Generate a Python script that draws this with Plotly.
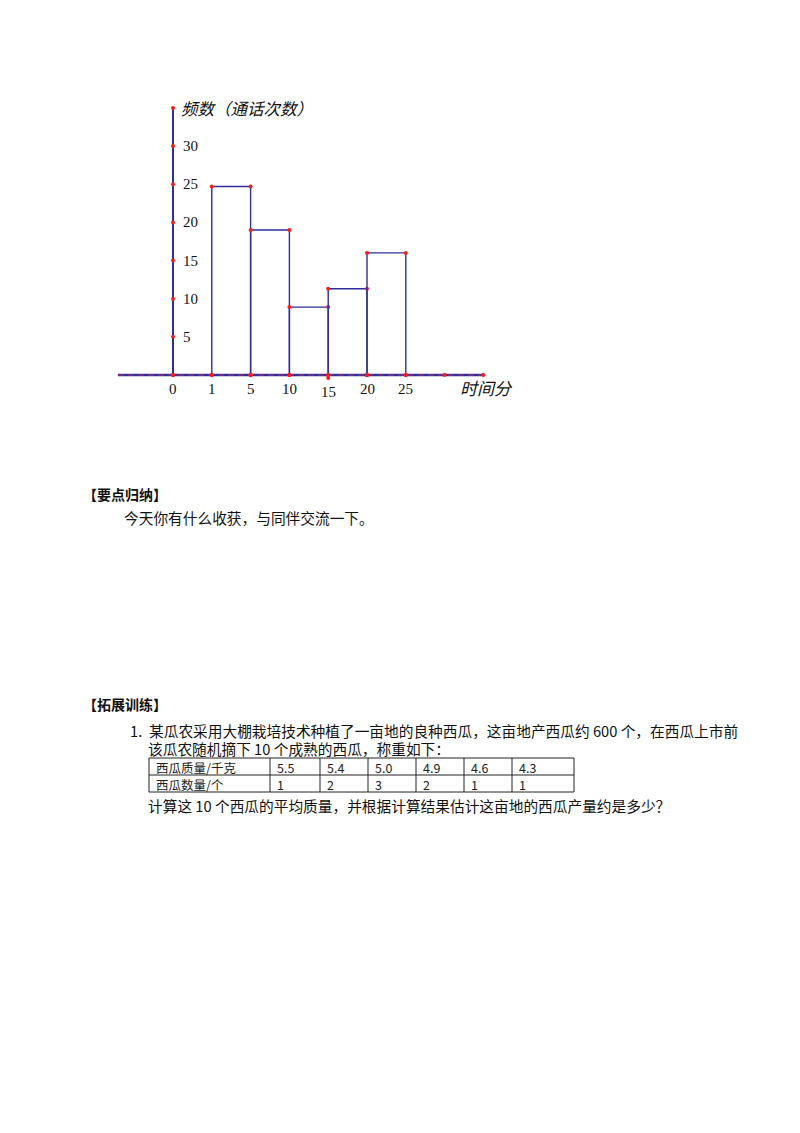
import plotly.graph_objects as go

# --- data ---
x_tick_labels = ["0", "1", "5", "10", "15", "20", "25"]
bar_heights = [24.7, 19.0, 8.9, 11.3, 16.0]          # bars between consecutive x ticks from "1"
y_tick_values = [5, 10, 15, 20, 25, 30]
y_axis_top = 35
x_axis_dots = [0, 1, 2, 3, 4, 5, 6, 7, 8]            # ordinal positions of red dots on the time axis
x_axis_dot_y = [0, 0, 0, 0, -0.4, 0, 0, 0, 0]

table_row1_head = "西瓜质量/千克"
table_row2_head = "西瓜数量/个"
masses = ["5.5", "5.4", "5.0", "4.9", "4.6", "4.3"]
counts = [1, 2, 3, 2, 1, 1]

W, H = 800, 1133
BLUE = "#2e2e9e"
RED = "#ff1a1a"
CJK = "Noto Sans CJK SC"
SERIF = "Liberation Serif"

# pixel mapping of the histogram: x_px = 173 + 38.8*i, y_px = 375 - 7.63*v
def px_x(p):
    return p / W

def px_y(p):
    return 1 - p / H

xr = [-1.5, 8.5]
yr = [-3, 36]
x_dom = [px_x(173 + 38.8 * xr[0]), px_x(173 + 38.8 * xr[1])]
y_dom = [px_y(375 - 7.63 * yr[0]), px_y(375 - 7.63 * yr[1])]

fig = go.Figure()

# time axis: blue line with red dashes
fig.add_trace(go.Scatter(x=[-1.42, 8.0], y=[0, 0], mode="lines",
                         line=dict(color=BLUE, width=2.6), hoverinfo="skip"))
fig.add_trace(go.Scatter(x=[-1.42, 8.0], y=[0, 0], mode="lines",
                         line=dict(color="rgba(255,60,60,0.55)", width=1.2, dash="6px,4px"),
                         hoverinfo="skip"))
# frequency axis
fig.add_trace(go.Scatter(x=[0, 0], y=[0, y_axis_top], mode="lines",
                         line=dict(color=BLUE, width=2), hoverinfo="skip"))

# bars as outlines
for i, h in enumerate(bar_heights):
    l, r = i + 1, i + 2
    fig.add_trace(go.Scatter(x=[l, l, r, r], y=[0, h, h, 0], mode="lines+markers",
                             line=dict(color=BLUE, width=1.4),
                             marker=dict(color=RED, size=4), hoverinfo="skip"))

# red dots on axes
fig.add_trace(go.Scatter(x=x_axis_dots, y=x_axis_dot_y, mode="markers",
                         marker=dict(color=RED, size=4), hoverinfo="skip"))
fig.add_trace(go.Scatter(x=[0] * (len(y_tick_values) + 2), y=[0] + y_tick_values + [y_axis_top],
                         mode="markers", marker=dict(color=RED, size=4), hoverinfo="skip"))

# tick labels
for v in y_tick_values:
    fig.add_annotation(x=0.2, y=v, text=str(v), showarrow=False, xanchor="left",
                       font=dict(family=SERIF, size=15, color="#111"))
for i, t in enumerate(x_tick_labels):
    fig.add_annotation(x=i, y=-1.8 if t != "15" else -2.2, text=t, showarrow=False,
                       font=dict(family=SERIF, size=15, color="#111"))
fig.add_annotation(x=0.15, y=y_axis_top, text="<i>频数（通话次数）</i>", showarrow=False,
                   xanchor="left", font=dict(family=CJK, size=16.5, color="#111"))
fig.add_annotation(x=7.35, y=-1.7, text="<i>时间分</i>", showarrow=False,
                   xanchor="left", font=dict(family=CJK, size=17, color="#111"))

# page text
def add_text(x, y, text, size=14.7, bold=False):
    fig.add_annotation(xref="paper", yref="paper", x=px_x(x), y=px_y(y), text=text,
                       showarrow=False, xanchor="left", yanchor="middle", height=17,
                       font=dict(family=CJK, size=size, color="#111",
                                 weight="bold" if bold else "normal"))

add_text(81, 493, "【要点归纳】", 14, bold=True)
add_text(122, 517, "今天你有什么收获，与同伴交流一下。")
add_text(81, 704, "【拓展训练】", 14, bold=True)
add_text(128, 730, "1.")
add_text(147, 730, "某瓜农采用大棚栽培技术种植了一亩地的良种西瓜，这亩地产西瓜约 600 个，在西瓜上市前")
add_text(146, 748, "该瓜农随机摘下 10 个成熟的西瓜，称重如下：")
add_text(146, 805, "计算这 10 个西瓜的平均质量，并根据计算结果估计这亩地的西瓜产量约是多少？")

# table: grid lines + cell texts
col_edges = [149, 270, 320, 368, 416, 464, 512, 574]
row_edges = [758, 775, 792]
rows = [[table_row1_head] + masses, [table_row2_head] + [str(c) for c in counts]]
for yy in row_edges:
    fig.add_shape(type="line", xref="paper", yref="paper",
                  x0=px_x(col_edges[0]), x1=px_x(col_edges[-1]), y0=px_y(yy), y1=px_y(yy),
                  line=dict(color="#222", width=1))
for xx in col_edges:
    fig.add_shape(type="line", xref="paper", yref="paper",
                  x0=px_x(xx), x1=px_x(xx), y0=px_y(row_edges[0]), y1=px_y(row_edges[-1]),
                  line=dict(color="#222", width=1))
for r, row in enumerate(rows):
    yc = (row_edges[r] + row_edges[r + 1]) / 2
    for c, val in enumerate(row):
        fig.add_annotation(xref="paper", yref="paper", x=px_x(col_edges[c] + 5), y=px_y(yc + 0.5),
                           text=val, showarrow=False, xanchor="left", yanchor="middle",
                           font=dict(family=CJK, size=12.5, color="#222"))

fig.update_layout(
    width=W, height=H, margin=dict(l=0, r=0, t=0, b=0),
    paper_bgcolor="white", plot_bgcolor="white", showlegend=False,
    xaxis=dict(domain=x_dom, range=xr, visible=False),
    yaxis=dict(domain=y_dom, range=yr, visible=False),
)

fig.write_html("out.html", config={"displayModeBar": False},
               post_script="document.body.style.margin='0px';")
